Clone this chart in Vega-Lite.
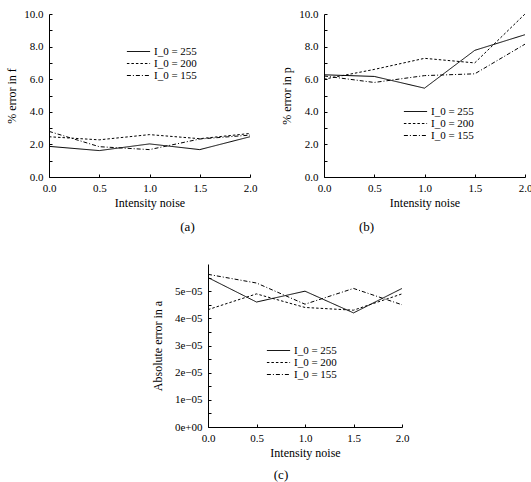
{
  "$schema": "https://vega.github.io/schema/vega-lite/v6.json",
  "padding": {"left": 5, "top": 8, "right": 0, "bottom": 0},
  "background": "white",
  "config": {
    "font": "Liberation Serif",
    "view": {"stroke": null},
    "axis": {
      "domainColor": "black", "tickColor": "black", "labelColor": "black", "titleColor": "black",
      "grid": false, "labelFontSize": 11, "titleFontSize": 12, "titleFontWeight": "normal",
      "tickSize": -3, "labelFlush": false, "labelOverlap": false, "domainWidth": 1, "tickWidth": 1
    },
    "axisX": {"labelPadding": 8, "titlePadding": 4},
    "axisY": {"labelPadding": 9, "titlePadding": 5},
    "legend": {
      "orient": "none", "title": null, "padding": 0, "rowPadding": 0, "labelFontSize": 11,
      "labelColor": "black", "symbolType": "M-2.9,0H2.9", "symbolSize": 64, "symbolStrokeWidth": 1,
      "symbolStrokeColor": "black", "labelOffset": 10
    },
    "title": {"font": "Liberation Serif", "fontSize": 13, "fontWeight": "normal", "color": "black"}
  },
  "datasets": {
    "d": [
      {"panel": "a", "series": "I_0 = 255", "noise": 0.0, "value": 1.88},
      {"panel": "a", "series": "I_0 = 255", "noise": 0.5, "value": 1.62},
      {"panel": "a", "series": "I_0 = 255", "noise": 1.0, "value": 2.03},
      {"panel": "a", "series": "I_0 = 255", "noise": 1.5, "value": 1.68},
      {"panel": "a", "series": "I_0 = 255", "noise": 2.0, "value": 2.47},
      {"panel": "a", "series": "I_0 = 200", "noise": 0.0, "value": 2.47},
      {"panel": "a", "series": "I_0 = 200", "noise": 0.5, "value": 2.28},
      {"panel": "a", "series": "I_0 = 200", "noise": 1.0, "value": 2.6},
      {"panel": "a", "series": "I_0 = 200", "noise": 1.5, "value": 2.35},
      {"panel": "a", "series": "I_0 = 200", "noise": 2.0, "value": 2.67},
      {"panel": "a", "series": "I_0 = 155", "noise": 0.0, "value": 2.8},
      {"panel": "a", "series": "I_0 = 155", "noise": 0.5, "value": 1.86},
      {"panel": "a", "series": "I_0 = 155", "noise": 1.0, "value": 1.68},
      {"panel": "a", "series": "I_0 = 155", "noise": 1.5, "value": 2.33},
      {"panel": "a", "series": "I_0 = 155", "noise": 2.0, "value": 2.57},
      {"panel": "b", "series": "I_0 = 255", "noise": 0.0, "value": 6.27},
      {"panel": "b", "series": "I_0 = 255", "noise": 0.5, "value": 6.17},
      {"panel": "b", "series": "I_0 = 255", "noise": 1.0, "value": 5.45},
      {"panel": "b", "series": "I_0 = 255", "noise": 1.5, "value": 7.77},
      {"panel": "b", "series": "I_0 = 255", "noise": 2.0, "value": 8.73},
      {"panel": "b", "series": "I_0 = 200", "noise": 0.0, "value": 6.0},
      {"panel": "b", "series": "I_0 = 200", "noise": 0.5, "value": 6.6},
      {"panel": "b", "series": "I_0 = 200", "noise": 1.0, "value": 7.28},
      {"panel": "b", "series": "I_0 = 200", "noise": 1.5, "value": 7.0},
      {"panel": "b", "series": "I_0 = 200", "noise": 2.0, "value": 10.0},
      {"panel": "b", "series": "I_0 = 155", "noise": 0.0, "value": 6.2},
      {"panel": "b", "series": "I_0 = 155", "noise": 0.5, "value": 5.8},
      {"panel": "b", "series": "I_0 = 155", "noise": 1.0, "value": 6.22},
      {"panel": "b", "series": "I_0 = 155", "noise": 1.5, "value": 6.33},
      {"panel": "b", "series": "I_0 = 155", "noise": 2.0, "value": 8.15},
      {"panel": "c", "series": "I_0 = 255", "noise": 0.0, "value": 5.5e-5},
      {"panel": "c", "series": "I_0 = 255", "noise": 0.5, "value": 4.6e-5},
      {"panel": "c", "series": "I_0 = 255", "noise": 1.0, "value": 5.0e-5},
      {"panel": "c", "series": "I_0 = 255", "noise": 1.5, "value": 4.2e-5},
      {"panel": "c", "series": "I_0 = 255", "noise": 2.0, "value": 5.1e-5},
      {"panel": "c", "series": "I_0 = 200", "noise": 0.0, "value": 4.32e-5},
      {"panel": "c", "series": "I_0 = 200", "noise": 0.5, "value": 4.9e-5},
      {"panel": "c", "series": "I_0 = 200", "noise": 1.0, "value": 4.4e-5},
      {"panel": "c", "series": "I_0 = 200", "noise": 1.5, "value": 4.3e-5},
      {"panel": "c", "series": "I_0 = 200", "noise": 2.0, "value": 4.9e-5},
      {"panel": "c", "series": "I_0 = 155", "noise": 0.0, "value": 5.62e-5},
      {"panel": "c", "series": "I_0 = 155", "noise": 0.5, "value": 5.3e-5},
      {"panel": "c", "series": "I_0 = 155", "noise": 1.0, "value": 4.52e-5},
      {"panel": "c", "series": "I_0 = 155", "noise": 1.5, "value": 5.1e-5},
      {"panel": "c", "series": "I_0 = 155", "noise": 2.0, "value": 4.5e-5}
    ]
  },
  "bounds": "flush",
  "spacing": 250,
  "resolve": {"scale": {"strokeDash": "independent"}, "legend": {"strokeDash": "independent"}},
  "vconcat": [
    {
      "bounds": "flush",
      "spacing": 74,
      "resolve": {"scale": {"strokeDash": "independent"}, "legend": {"strokeDash": "independent"}},
      "hconcat": [
        {
          "width": 201, "height": 163,
          "data": {"name": "d"},
          "transform": [{"filter": "datum.panel == 'a'"}],
          "title": {"text": "(a)", "orient": "bottom", "dx": 38, "offset": 13},
          "mark": {"type": "line", "stroke": "black", "strokeWidth": 1},
          "encoding": {
            "x": {"field": "noise", "type": "quantitative", "scale": {"domain": [0, 2], "nice": false},
                  "axis": {"values": [0, 0.5, 1, 1.5, 2], "format": ".1f", "title": "Intensity noise"}},
            "y": {"field": "value", "type": "quantitative", "scale": {"domain": [0, 10], "nice": false},
                  "axis": {"values": [0, 1, 2, 3, 4, 5, 6, 7, 8, 9, 10], "labelExpr": "datum.value % 2 == 0 ? format(datum.value, '.1f') : ''", "title": "% error in f"}},
            "strokeDash": {"field": "series", "type": "nominal",
                           "scale": {"domain": ["I_0 = 255", "I_0 = 200", "I_0 = 155"], "range": [[1, 0], [2.5, 2], [4, 2, 1, 2]]},
                           "legend": {"legendX": 84, "legendY": 32}}
          }
        },
        {
          "width": 201, "height": 163,
          "data": {"name": "d"},
          "transform": [{"filter": "datum.panel == 'b'"}],
          "title": {"text": "(b)", "orient": "bottom", "dx": -58, "offset": 13},
          "mark": {"type": "line", "stroke": "black", "strokeWidth": 1},
          "encoding": {
            "x": {"field": "noise", "type": "quantitative", "scale": {"domain": [0, 2], "nice": false},
                  "axis": {"values": [0, 0.5, 1, 1.5, 2], "format": ".1f", "title": "Intensity noise"}},
            "y": {"field": "value", "type": "quantitative", "scale": {"domain": [0, 10], "nice": false},
                  "axis": {"values": [0, 1, 2, 3, 4, 5, 6, 7, 8, 9, 10], "labelExpr": "datum.value % 2 == 0 ? format(datum.value, '.1f') : ''", "title": "% error in p"}},
            "strokeDash": {"field": "series", "type": "nominal",
                           "scale": {"domain": ["I_0 = 255", "I_0 = 200", "I_0 = 155"], "range": [[1, 0], [2.5, 2], [4, 2, 1, 2]]},
                           "legend": {"legendX": 86, "legendY": 92}}
          }
        }
      ]
    },
    {
      "bounds": "flush",
      "spacing": 59,
      "resolve": {"scale": {"strokeDash": "independent"}, "legend": {"strokeDash": "independent"}},
      "hconcat": [
        {
          "width": 100, "height": 10,
          "data": {"values": [{}]},
          "mark": {"type": "point", "opacity": 0},
          "encoding": {}
        },
        {
          "width": 194, "height": 163,
          "data": {"name": "d"},
          "transform": [{"filter": "datum.panel == 'c'"}],
          "title": {"text": "(c)", "orient": "bottom", "dx": -24, "offset": 11},
          "mark": {"type": "line", "stroke": "black", "strokeWidth": 1},
          "encoding": {
            "x": {"field": "noise", "type": "quantitative", "scale": {"domain": [0, 2], "nice": false},
                  "axis": {"values": [0, 0.5, 1, 1.5, 2], "format": ".1f", "title": "Intensity noise"}},
            "y": {"field": "value", "type": "quantitative", "scale": {"domain": [0, 6e-5], "nice": false},
                  "axis": {"values": [0, 5e-6, 1e-5, 1.5e-5, 2e-5, 2.5e-5, 3e-5, 3.5e-5, 4e-5, 4.5e-5, 5e-5, 5.5e-5],
                           "labelExpr": "['0e+00','','1e−05','','2e−05','','3e−05','','4e−05','','5e−05',''][round(datum.value/5e-6)]",
                           "title": "Absolute error in a", "titlePadding": 10}},
            "strokeDash": {"field": "series", "type": "nominal",
                           "scale": {"domain": ["I_0 = 255", "I_0 = 200", "I_0 = 155"], "range": [[1, 0], [2.5, 2], [4, 2, 1, 2]]},
                           "legend": {"legendX": 65, "legendY": 81}}
          }
        }
      ]
    }
  ]
}
